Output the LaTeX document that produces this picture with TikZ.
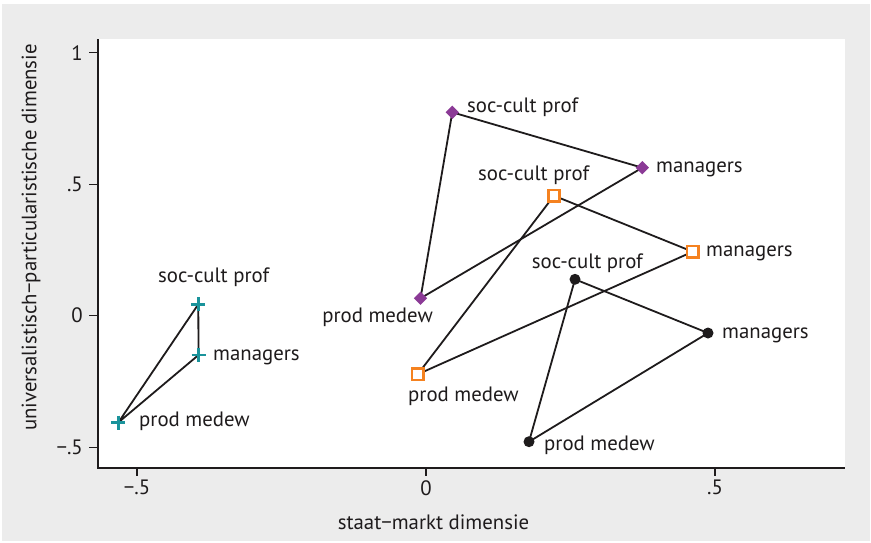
\documentclass[tikz,border=0pt]{standalone}
\usepackage{fontspec}
\setmainfont{PT Sans}
\usetikzlibrary{shapes.geometric}
\definecolor{bggray}{HTML}{ECECEC}
\definecolor{txt}{HTML}{1E1B1C}
\definecolor{tealm}{HTML}{1A939B}
\definecolor{purplem}{HTML}{8B3A96}
\definecolor{orangem}{HTML}{F58220}
\tikzset{
  lab/.style={font=\fontsize{20.8}{23}\selectfont, text=txt, inner sep=0pt},
  ticklab/.style={font=\fontsize{20.8}{23}\selectfont, text=txt, inner sep=0pt},
  conn/.style={draw=txt, line width=1.8pt, line join=round},
  axisline/.style={draw=txt, line width=1.5pt},
  tickline/.style={draw=txt, line width=1.4pt},
  diam/.style={diamond, fill=purplem, inner sep=0pt, minimum width=13.5pt, minimum height=13.5pt},
  sqm/.style={rectangle, draw=orangem, line width=2.8pt, fill=white, inner sep=0pt, minimum size=11.5pt},
  dotm/.style={circle, fill=txt, inner sep=0pt, minimum size=11pt},
  plusm/.pic={\draw[tealm, line width=2.4pt] (-7,0) -- (7,0) (0,-7) -- (0,7);}
}
\begin{document}
\begin{tikzpicture}[x=1pt,y=-1pt]
\useasboundingbox (0,0) rectangle (871,542);
\fill[bggray] (2,4) rectangle (870,541);
\fill[white] (98,39) rectangle (845,468);
% axes
\draw[axisline] (98,39) -- (98,468) -- (845,468);
% y ticks
\foreach \yy/\tl in {52.7/1, 184.2/.5, 315.7/0, 447.2/−.5}{
  \draw[tickline] (89,\yy) -- (98,\yy);
  \node[ticklab, anchor=east] at (83,\yy) {\tl};
}
% x ticks
\foreach \xx/\tl in {137/−.5, 426/0, 715/.5}{
  \draw[tickline] (\xx,468) -- (\xx,476);
  \node[ticklab, anchor=north] at (\xx,480) {\tl};
}
\node[lab] (xtitle) at (433.5,522) {staat−markt dimensie};
\node[lab, rotate=90] (ytitle) at (31,237.5) {universalistisch−particularistische dimensie};
% points
\coordinate (cs) at (198.3,304.3);
\coordinate (cm) at (198.5,355);
\coordinate (cp) at (118.3,422.5);
\coordinate (ds) at (452.3,112.3);
\coordinate (dm) at (642.3,167.7);
\coordinate (dp) at (420.5,298.3);
\coordinate (ss) at (554,195.7);
\coordinate (sm) at (692.7,251.7);
\coordinate (sp) at (417.7,374.3);
\coordinate (bs) at (575,279.3);
\coordinate (bm) at (708,333);
\coordinate (bp) at (529,441.7);
% connectors
\draw[conn] (cs) -- (cm) -- (cp) -- cycle;
\draw[conn] (ds) -- (dm) -- (dp) -- cycle;
\draw[conn] (ss) -- (sm) -- (sp) -- cycle;
\draw[conn] (bs) -- (bm) -- (bp) -- cycle;
% markers
\pic (csm) at (cs) {plusm};
\pic (cmm) at (cm) {plusm};
\pic (cpm) at (cp) {plusm};
\node[diam] (dsm) at (ds) {};
\node[diam] (dmm) at (dm) {};
\node[diam] (dpm) at (dp) {};
\node[sqm] (ssm) at (ss) {};
\node[sqm] (smm) at (sm) {};
\node[sqm] (spm) at (sp) {};
\node[dotm] (bsm) at (bs) {};
\node[dotm] (bmm) at (bm) {};
\node[dotm] (bpm) at (bp) {};
% labels
\node[lab, anchor=base west] (csl) at (158,282.7) {soc-cult prof};
\node[lab, anchor=base west] (cml) at (213,360) {managers};
\node[lab, anchor=base west] (cpl) at (139,426.7) {prod medew};
\node[lab, anchor=base west] (dsl) at (467,112.3) {soc-cult prof};
\node[lab, anchor=base west] (dml) at (656,172.7) {managers};
\node[lab, anchor=base east] (dpl) at (433,322.7) {prod medew};
\node[lab, anchor=base west] (ssl) at (478,180.7) {soc-cult prof};
\node[lab, anchor=base west] (sml) at (706,256.7) {managers};
\node[lab, anchor=base west] (spl) at (408,401.7) {prod medew};
\node[lab, anchor=base west] (bsl) at (531.7,268.3) {soc-cult prof};
\node[lab, anchor=base west] (bml) at (722,338.5) {managers};
\node[lab, anchor=base west] (bpl) at (544,450) {prod medew};
\end{tikzpicture}
\end{document}
